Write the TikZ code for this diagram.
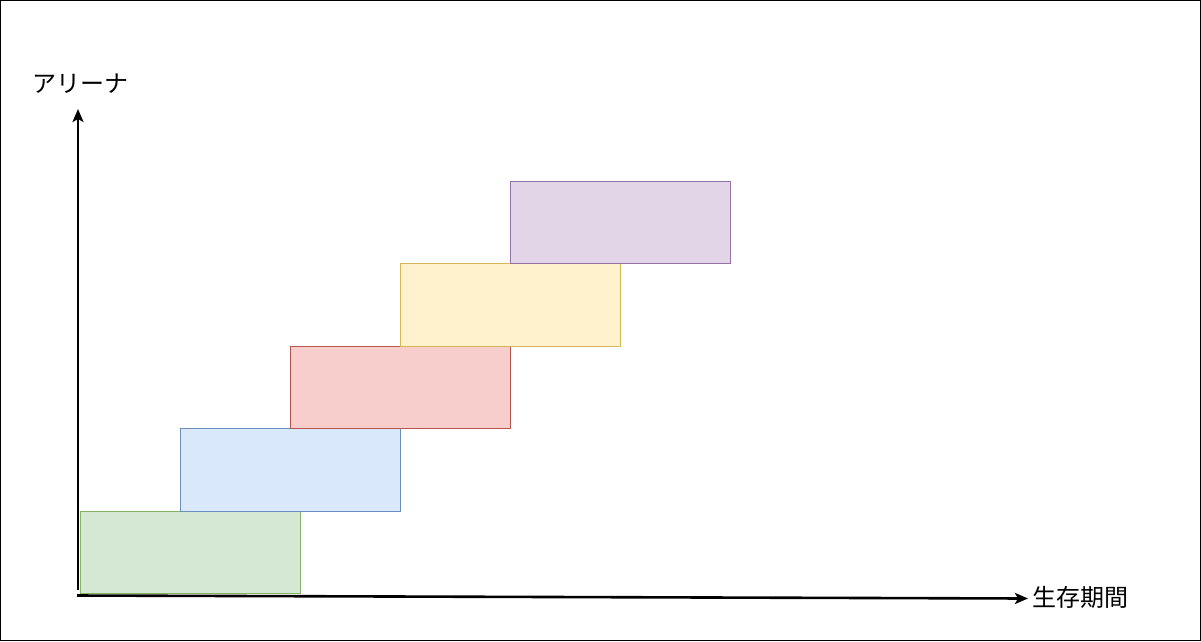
\documentclass[tikz,border=0pt]{standalone}
\usepackage{fontspec}
\newfontfamily\cjk{Noto Sans CJK JP}
\usetikzlibrary{arrows.meta}
\definecolor{gfill}{HTML}{D5E8D4}\definecolor{gline}{HTML}{82B366}
\definecolor{bfill}{HTML}{DAE8FC}\definecolor{bline}{HTML}{6C8EBF}
\definecolor{rfill}{HTML}{F8CECC}\definecolor{rline}{HTML}{B85450}
\definecolor{yfill}{HTML}{FFF2CC}\definecolor{yline}{HTML}{D6B656}
\definecolor{pfill}{HTML}{E1D5E7}\definecolor{pline}{HTML}{9673A6}
\tikzset{
  bar/.style={draw, line width=0.8pt, minimum width=220pt, minimum height=82.5pt, inner sep=0pt, anchor=north west},
  axis/.style={line width=2.6pt, -{Stealth[length=13pt,width=11pt,inset=3pt]}},
  lbl/.style={font=\cjk\fontsize{24}{28}\selectfont, inner sep=0pt},
}
\begin{document}
\begin{tikzpicture}[x=1pt,y=-1pt]
\draw[line width=1pt] (0.5,0.5) rectangle (1200.5,640.5);
\useasboundingbox (0,0) rectangle (1201,641);
\node[bar, fill=gfill, draw=gline] (g) at (80,510.5) {};
\node[bar, fill=bfill, draw=bline] (b) at (180,428) {};
\node[bar, fill=rfill, draw=rline] (r) at (290,345.5) {};
\node[bar, fill=yfill, draw=yline] (y) at (400,263) {};
\node[bar, fill=pfill, draw=pline] (p) at (510,180.5) {};
\coordinate (o1) at (78,590);
\coordinate (yt) at (78,109);
\coordinate (o2) at (77,595.5);
\coordinate (xt) at (1028,598.5);
\draw[axis] (o1) -- (yt);
\draw[axis] (o2) -- (xt);
\node[lbl] (ya) at (80,84) {アリーナ};
\node[lbl] (xa) at (1080,597) {生存期間};
\end{tikzpicture}
\end{document}
